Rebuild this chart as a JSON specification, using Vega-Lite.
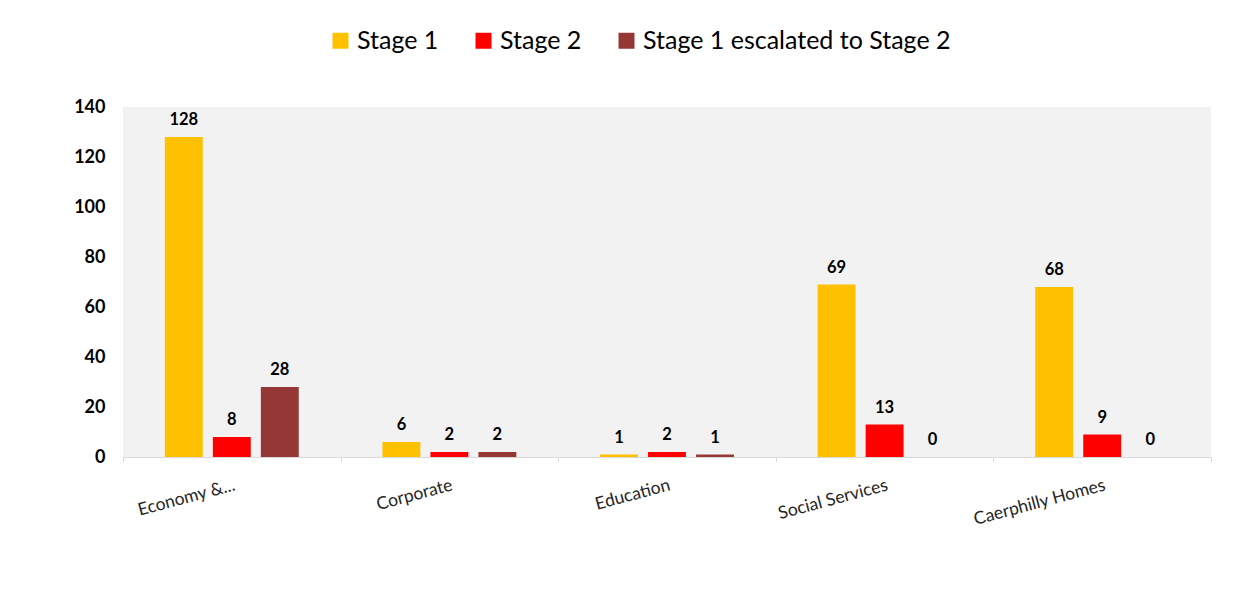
{
  "$schema": "https://vega.github.io/schema/vega-lite/v6.json",
  "autosize": "none",
  "width": 1088,
  "height": 350,
  "padding": {"left": 123, "top": 107, "right": 42, "bottom": 143},
  "background": "white",
  "config": {
    "font": "Lato",
    "view": {"fill": "#F2F2F2", "stroke": null}
  },
  "data": {
    "values": [
      {"dept": "Economy &...", "series": "Stage 1", "value": 128},
      {"dept": "Economy &...", "series": "Stage 2", "value": 8},
      {"dept": "Economy &...", "series": "Stage 1 escalated to Stage 2", "value": 28},
      {"dept": "Corporate", "series": "Stage 1", "value": 6},
      {"dept": "Corporate", "series": "Stage 2", "value": 2},
      {"dept": "Corporate", "series": "Stage 1 escalated to Stage 2", "value": 2},
      {"dept": "Education", "series": "Stage 1", "value": 1},
      {"dept": "Education", "series": "Stage 2", "value": 2},
      {"dept": "Education", "series": "Stage 1 escalated to Stage 2", "value": 1},
      {"dept": "Social Services", "series": "Stage 1", "value": 69},
      {"dept": "Social Services", "series": "Stage 2", "value": 13},
      {"dept": "Social Services", "series": "Stage 1 escalated to Stage 2", "value": 0},
      {"dept": "Caerphilly Homes", "series": "Stage 1", "value": 68},
      {"dept": "Caerphilly Homes", "series": "Stage 2", "value": 9},
      {"dept": "Caerphilly Homes", "series": "Stage 1 escalated to Stage 2", "value": 0}
    ]
  },
  "encoding": {
    "x": {
      "field": "dept", "type": "nominal", "sort": null, "title": null,
      "scale": {"paddingInner": 0, "paddingOuter": 0},
      "axis": {
        "tickBand": "extent", "labelAngle": -15, "labelAlign": "right", "labelBaseline": "top",
        "labelPadding": 14, "labelFontSize": 17.5, "labelColor": "#262626", "labelFont": "Lato",
        "domainColor": "#D9D9D9", "tickColor": "#D9D9D9", "tickSize": 5, "labelLimit": 300
      }
    },
    "xOffset": {
      "field": "series", "type": "nominal",
      "sort": ["Stage 1", "Stage 2", "Stage 1 escalated to Stage 2"],
      "scale": {"paddingInner": 0.21, "paddingOuter": 0.872}
    },
    "y": {
      "field": "value", "type": "quantitative", "title": null,
      "scale": {"domain": [0, 140]},
      "axis": {
        "values": [0, 20, 40, 60, 80, 100, 120, 140], "grid": false, "domain": false, "ticks": false,
        "labelFontSize": 18, "labelFontWeight": "bold", "labelColor": "#000000", "labelPadding": 18
      }
    }
  },
  "layer": [
    {
      "mark": {"type": "bar"},
      "encoding": {
        "color": {
          "field": "series", "type": "nominal",
          "sort": ["Stage 1", "Stage 2", "Stage 1 escalated to Stage 2"],
          "scale": {"domain": ["Stage 1", "Stage 2", "Stage 1 escalated to Stage 2"], "range": ["#FFC000", "#FF0000", "#953735"]},
          "legend": {
            "title": null, "orient": "none", "direction": "horizontal", "legendX": 205, "legendY": -79,
            "padding": 0,
            "symbolType": "square", "symbolSize": 256, "symbolStrokeWidth": 0, "symbolOpacity": 1,
            "labelFontSize": 25, "labelColor": "#000000", "labelOffset": 4, "columnPadding": 32,
            "labelLimit": 400
          }
        }
      }
    },
    {
      "mark": {"type": "text", "baseline": "bottom", "dy": -9, "fontSize": 16.5, "fontWeight": "bold", "color": "#000000"},
      "encoding": {"text": {"field": "value", "type": "quantitative"}}
    }
  ]
}
